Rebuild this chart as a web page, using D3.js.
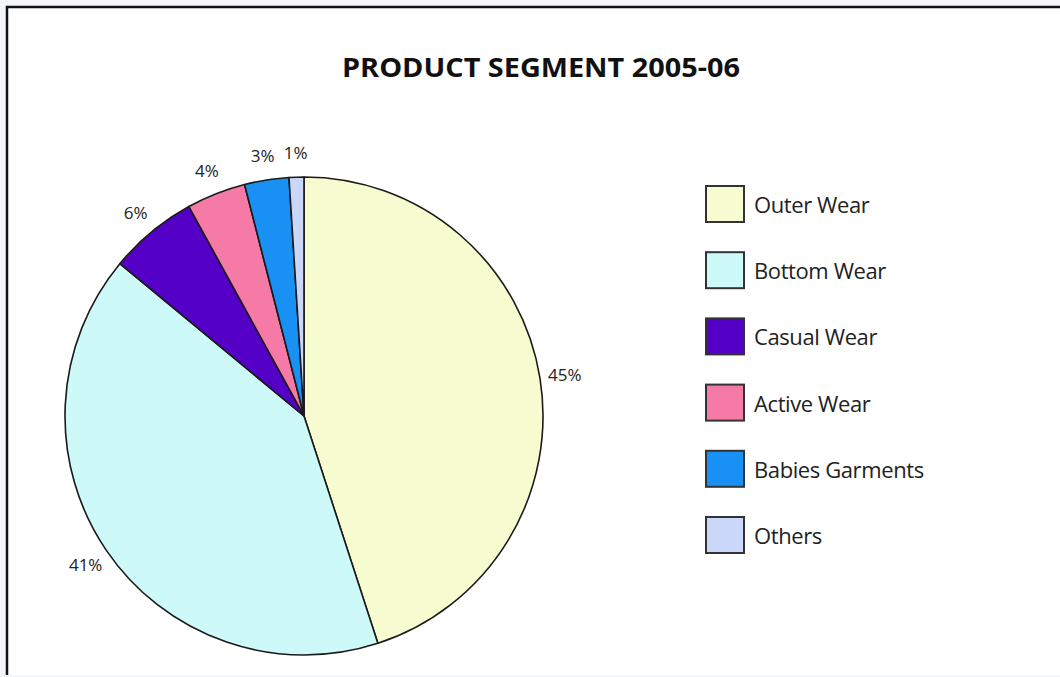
<!DOCTYPE html>
<html>
<head>
<meta charset="utf-8">
<script src="https://cdn.jsdelivr.net/npm/d3@7"></script>
<style>
  html, body { margin: 0; padding: 0; background: #f3f5f8; }
  svg { display: block; }
</style>
</head>
<body>
<div id="chart"></div>
<script>
const title = 'PRODUCT SEGMENT 2005-06'
const categories = ['Outer Wear', 'Bottom Wear', 'Casual Wear', 'Active Wear', 'Babies Garments', 'Others']
const values = [45, 41, 6, 4, 3, 1]
const colors = ['#f6fccf', '#cdfaf8', '#5500c6', '#f57aa5', '#1890f4', '#cbd7f9']

const width = 1060
const height = 677
const cx = 304
const cy = 416
const radius = 239
const labelRadius = 264

const svg = d3.select('#chart')
    .append('svg')
    .attr('width', width)
    .attr('height', height)

// white panel with the black frame on top and left
svg.append('rect')
    .attr('x', 7)
    .attr('y', 7)
    .attr('width', width - 7)
    .attr('height', 668)
    .attr('fill', '#ffffff')

svg.append('path')
    .attr('d', `M7,675 L7,7 L${width},7`)
    .attr('fill', 'none')
    .attr('stroke', '#111')
    .attr('stroke-width', 2.5)

svg.append('text')
    .text(title)
    .attr('x', 541)
    .attr('y', 77)
    .attr('text-anchor', 'middle')
    .attr('font-family', '"Open Sans", Arial, sans-serif')
    .attr('font-weight', 'bold')
    .attr('font-size', 27)
    .attr('textLength', 398)
    .attr('lengthAdjust', 'spacingAndGlyphs')
    .attr('fill', '#111')

const data = categories.map((c, i) => ({ name: c, value: values[i], color: colors[i] }))

const pie = d3.pie()
    .value(d => d.value)
    .sort(null)

const arc = d3.arc()
    .innerRadius(0)
    .outerRadius(radius)

const labelArc = d3.arc()
    .innerRadius(labelRadius)
    .outerRadius(labelRadius)

const arcs = pie(data)

const pieGroup = svg.append('g')
    .attr('transform', `translate(${cx}, ${cy})`)

pieGroup.selectAll('path')
    .data(arcs)
    .join('path')
    .attr('d', arc)
    .attr('fill', d => d.data.color)
    .attr('stroke', '#1a1a1a')
    .attr('stroke-width', 1.6)
    .attr('stroke-linejoin', 'round')

pieGroup.selectAll('text')
    .data(arcs)
    .join('text')
    .text(d => `${d.data.value}%`)
    .attr('x', d => labelArc.centroid(d)[0])
    .attr('y', d => labelArc.centroid(d)[1])
    .attr('text-anchor', 'middle')
    .attr('dominant-baseline', 'central')
    .attr('font-family', '"Open Sans", Arial, sans-serif')
    .attr('font-size', 17)
    .attr('fill', '#222')

// Legend
const legendY = d3.scalePoint()
    .domain(categories)
    .range([204, 535])

const legend = svg.append('g')
    .attr('id', 'legend')

legend.selectAll('rect')
    .data(data)
    .join('rect')
    .attr('x', 706)
    .attr('y', d => legendY(d.name) - 18)
    .attr('width', 38)
    .attr('height', 36)
    .attr('fill', d => d.color)
    .attr('stroke', '#333')
    .attr('stroke-width', 2)

legend.selectAll('text')
    .data(data)
    .join('text')
    .text(d => d.name)
    .attr('x', 754)
    .attr('y', d => legendY(d.name))
    .attr('dominant-baseline', 'central')
    .attr('font-family', '"Open Sans", Arial, sans-serif')
    .attr('font-size', 22)
    .attr('letter-spacing', -0.4)
    .attr('fill', '#222')
</script>
</body>
</html>
